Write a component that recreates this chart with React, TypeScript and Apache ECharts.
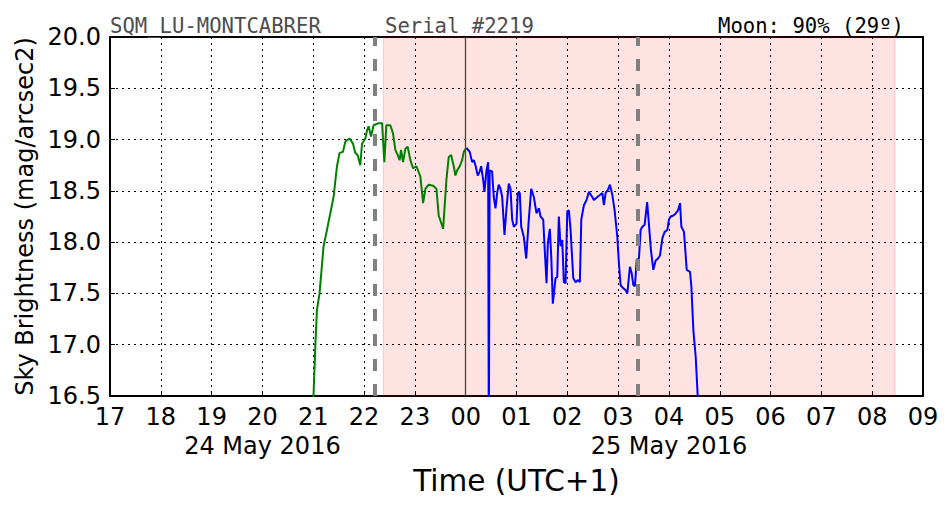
import React, { useEffect, useRef } from "react";
import * as echarts from "echarts";

// Hours since midnight of 24 May 2016 (24 = 00:00 on 25 May)
const greenTimes = [20.99, 21.04, 21.073, 21.124, 21.203, 21.27, 21.4, 21.467, 21.518, 21.585, 21.631, 21.715, 21.782, 21.828, 21.873, 21.926, 21.96, 22.025, 22.058, 22.09, 22.137, 22.188, 22.287, 22.354, 22.399, 22.438, 22.517, 22.57, 22.616, 22.661, 22.7, 22.728, 22.767, 22.813, 22.858, 22.911, 22.964, 23.03, 23.108, 23.162, 23.207, 23.272, 23.359, 23.424, 23.469, 23.556, 23.621, 23.666, 23.713, 23.765, 23.798, 23.832, 23.883, 23.93, 23.962, 24.015];
const greenValues = [16.3, 16.98, 17.34, 17.5, 17.96, 18.12, 18.44, 18.74, 18.87, 18.88, 18.98, 19.01, 18.96, 18.87, 18.85, 18.75, 18.96, 19.01, 19.09, 19.13, 19.03, 19.14, 19.16, 19.16, 18.78, 19.14, 19.14, 19.06, 18.9, 18.85, 18.8, 18.9, 18.78, 18.91, 18.93, 18.8, 18.72, 18.74, 18.64, 18.38, 18.52, 18.56, 18.55, 18.52, 18.26, 18.13, 18.61, 18.83, 18.85, 18.74, 18.65, 18.7, 18.74, 18.8, 18.88, 18.92];

const blueTimes = [24.015, 24.08, 24.127, 24.159, 24.192, 24.237, 24.277, 24.304, 24.344, 24.369, 24.409, 24.442, 24.455, 24.472, 24.519, 24.553, 24.586, 24.62, 24.651, 24.685, 24.718, 24.764, 24.803, 24.848, 24.882, 24.915, 24.947, 25.0, 25.026, 25.065, 25.093, 25.144, 25.191, 25.242, 25.29, 25.341, 25.394, 25.44, 25.473, 25.526, 25.552, 25.591, 25.617, 25.656, 25.684, 25.715, 25.768, 25.802, 25.833, 25.867, 25.9, 25.932, 25.966, 25.999, 26.031, 26.064, 26.117, 26.163, 26.208, 26.247, 26.275, 26.326, 26.379, 26.425, 26.491, 26.523, 26.59, 26.641, 26.689, 26.72, 26.754, 26.799, 26.839, 26.886, 26.931, 26.984, 27.016, 27.049, 27.102, 27.148, 27.181, 27.232, 27.266, 27.3, 27.331, 27.365, 27.41, 27.443, 27.477, 27.522, 27.571, 27.607, 27.646, 27.693, 27.739, 27.784, 27.824, 27.871, 27.916, 27.969, 28.0, 28.034, 28.087, 28.133, 28.178, 28.218, 28.245, 28.296, 28.35, 28.415, 28.441, 28.481, 28.527, 28.566, 28.586];
const blueValues = [18.92, 18.88, 18.78, 18.8, 18.75, 18.65, 18.69, 18.74, 18.61, 18.49, 18.7, 18.78, 16.0, 18.7, 18.69, 18.44, 18.33, 18.48, 18.56, 18.52, 18.44, 18.07, 18.33, 18.57, 18.52, 18.22, 18.15, 18.18, 18.48, 18.48, 18.15, 18.05, 17.84, 18.22, 18.52, 18.44, 18.28, 18.33, 18.25, 18.22, 17.96, 17.6, 17.99, 18.13, 17.86, 17.4, 17.65, 17.66, 18.25, 17.96, 18.02, 17.61, 17.6, 18.3, 18.31, 18.12, 17.65, 17.61, 17.63, 17.61, 18.22, 18.36, 18.41, 18.49, 18.44, 18.41, 18.44, 18.46, 18.48, 18.36, 18.48, 18.51, 18.56, 18.46, 18.31, 18.05, 17.79, 17.58, 17.55, 17.53, 17.5, 17.76, 17.7, 17.58, 17.57, 17.83, 17.84, 18.12, 18.15, 18.17, 18.39, 18.17, 17.92, 17.73, 17.82, 17.84, 17.87, 18.04, 18.1, 18.12, 18.22, 18.25, 18.26, 18.28, 18.31, 18.38, 18.15, 18.1, 17.73, 17.71, 17.57, 17.14, 16.88, 16.5, 16.27];

const xMin = 17;
const xMax = 33;
const yMin = 16.5;
const yMax = 20.0;
const dateLabels: Record<number, string> = { 20: "24 May 2016", 28: "25 May 2016" };

const nightStart = 22.379; // shaded region start
const nightEnd = 32.448; // shaded region end
const dashedMarks = [22.222, 27.384];
const midnight = 24;

const stationText = "SQM_LU-MONTCABRER";
const serialText = "Serial #2219";
const moonText = "Moon: 90% (29º)";

const zip = (a: number[], b: number[]) => a.map((t, i) => [t, b[i]]);

export default function App() {
  const ref = useRef<HTMLDivElement>(null);
  useEffect(() => {
    if (!ref.current) return;
    const chart = echarts.init(ref.current, null, { renderer: "svg" });
    const sans = "DejaVu Sans";
    const mono = "DejaVu Sans Mono";
    chart.setOption({
      animation: false,
      backgroundColor: "#fff",
      grid: {
        left: 110,
        right: 29,
        top: 37,
        bottom: 116,
        containLabel: false,
        outerBoundsMode: "none",
        show: true,
        borderColor: "#000",
        borderWidth: 2,
        backgroundColor: "transparent",
      },
      xAxis: {
        type: "value",
        min: xMin,
        max: xMax,
        interval: 1,
        name: "Time (UTC+1)",
        nameLocation: "middle",
        nameGap: 70,
        nameTextStyle: { fontFamily: sans, fontSize: 29.5, color: "#000" },
        axisLine: { show: true, lineStyle: { color: "#000", width: 2 } },
        axisTick: { show: true, inside: true, length: 5, lineStyle: { color: "#000" } },
        axisLabel: {
          fontFamily: sans,
          fontSize: 24,
          color: "#000",
          margin: 6,
          lineHeight: 29,
          formatter: (v: number) => {
            const h = String(Math.round(v) % 24).padStart(2, "0");
            const d = dateLabels[Math.round(v)];
            return d ? h + "\n" + d : h;
          },
        },
        splitLine: { show: true, lineStyle: { color: "#000", type: [2, 4], width: 1 } },
      },
      yAxis: {
        type: "value",
        min: yMin,
        max: yMax,
        interval: 0.5,
        name: "Sky Brightness (mag/arcsec2)",
        nameLocation: "middle",
        nameGap: 73,
        nameRotate: 90,
        nameTextStyle: { fontFamily: sans, fontSize: 24, color: "#000" },
        axisLine: { show: true, lineStyle: { color: "#000", width: 2 } },
        axisTick: { show: true, inside: true, length: 5, lineStyle: { color: "#000" } },
        axisLabel: {
          fontFamily: sans,
          fontSize: 24,
          color: "#000",
          margin: 9,
          formatter: (v: number) => v.toFixed(1),
        },
        splitLine: { show: true, lineStyle: { color: "#000", type: [2, 4], width: 1 } },
      },
      graphic: [
        {
          type: "text",
          left: 110,
          top: 15,
          z: 100,
          style: { text: stationText, font: `20.6px "${mono}"`, fill: "#4d4d4d" },
        },
        {
          type: "text",
          left: 385,
          top: 15,
          z: 100,
          style: { text: serialText, font: `20.6px "${mono}"`, fill: "#4d4d4d" },
        },
        {
          type: "text",
          right: 48,
          top: 15,
          z: 100,
          style: { text: moonText, font: `20.6px "${mono}"`, fill: "#000" },
        },
      ],
      series: [
        {
          type: "line",
          data: [],
          silent: true,
          markArea: {
            silent: true,
            itemStyle: {
              color: "rgba(255,0,0,0.11)",
              borderColor: "rgba(255,0,0,0.18)",
              borderWidth: 1,
            },
            data: [[{ xAxis: nightStart }, { xAxis: nightEnd }]],
          },
          markLine: {
            silent: true,
            symbol: "none",
            label: { show: false },
            data: [
              ...dashedMarks.map((x) => ({
                xAxis: x,
                lineStyle: { color: "#808080", width: 4, type: [12, 13] },
              })),
              { xAxis: midnight, lineStyle: { color: "#444", width: 1.3, type: "solid" } },
            ],
          },
        },
        {
          type: "line",
          data: zip(greenTimes, greenValues),
          showSymbol: false,
          clip: true,
          lineStyle: { color: "#008000", width: 2 },
          itemStyle: { color: "#008000" },
        },
        {
          type: "line",
          data: zip(blueTimes, blueValues),
          showSymbol: false,
          clip: true,
          lineStyle: { color: "#0000ff", width: 2 },
          itemStyle: { color: "#0000ff" },
        },
      ],
    });
    return () => chart.dispose();
  }, []);
  return <div ref={ref} style={{ width: 952, height: 512, margin: -8 }} />;
}
